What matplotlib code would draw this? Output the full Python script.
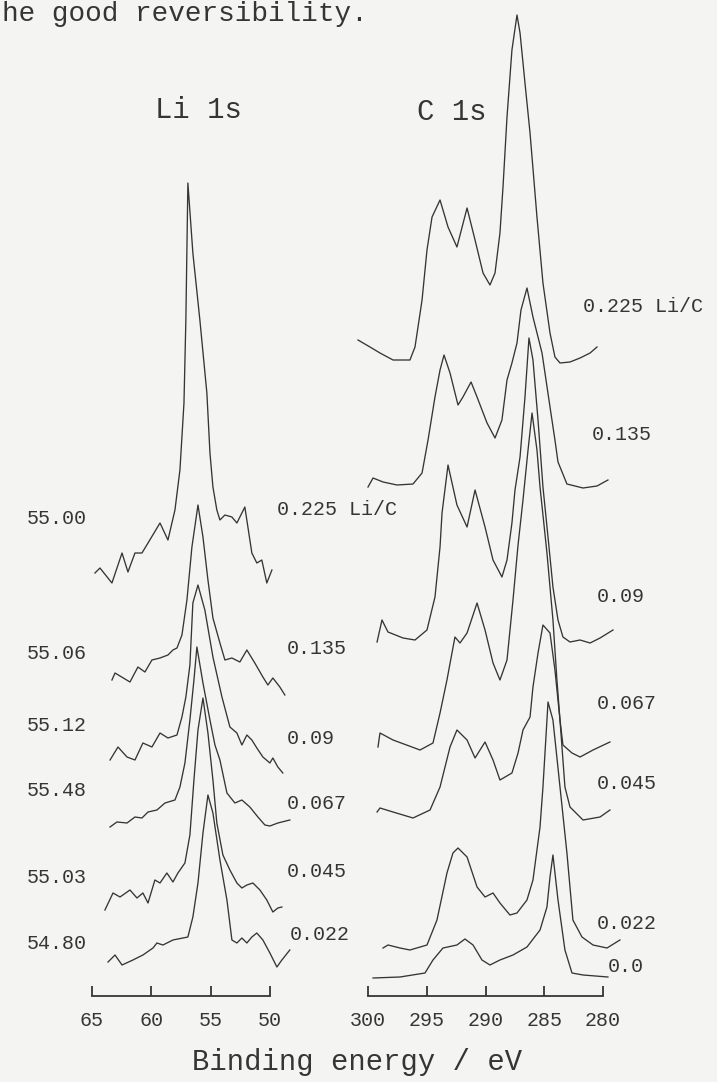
import matplotlib
matplotlib.use("Agg")
import matplotlib.pyplot as plt

# ---------------- data (binding energy in eV, intensity in arbitrary units) ----------------
li_ratios = ["0.225 Li/C", "0.135", "0.09", "0.067", "0.045", "0.022"]
li_peak_labels = ["55.00", "55.06", "55.12", "55.48", "55.03", "54.80"]
li_offsets = [421, 316, 236, 171, 91, 36]

li_E_0225 = [64.75, 64.33, 63.32, 62.47, 61.97, 61.38, 60.79, 60.28, 59.27, 58.60, 58.01, 57.59, 57.25, 57.09,
             56.92, 56.50, 55.91, 55.32, 55.06, 54.81, 54.48, 54.22, 53.80, 53.21, 52.79, 52.12, 51.53, 51.11,
             50.69, 50.27, 49.84]
li_I_0225 = [2, 7, -8, 22, 3, 22, 22, 32, 52, 35, 65, 105, 172, 255, 392, 322, 255, 182, 122, 88, 65, 55, 60, 58,
             52, 68, 22, 12, 15, -8, 5]

li_E_0135 = [63.32, 63.06, 61.80, 61.13, 60.54, 59.95, 59.27, 58.60, 58.18, 57.84, 57.42, 57.00, 56.58, 56.07,
             55.65, 55.23, 54.81, 54.22, 53.80, 53.21, 52.54, 51.95, 51.28, 50.60, 50.18, 49.76, 49.17, 48.75]
li_I_0135 = [0, 7, -2, 13, 8, 20, 22, 25, 30, 32, 45, 80, 133, 175, 143, 100, 62, 37, 20, 22, 18, 30, 17, 3, -5,
             2, -7, -15]

li_E_009 = [63.48, 62.81, 62.05, 61.38, 60.71, 59.95, 59.27, 58.60, 57.84, 57.42, 57.09, 56.75, 56.50, 56.07,
            55.49, 54.81, 54.05, 53.38, 52.79, 52.37, 51.95, 51.53, 51.11, 50.60, 50.01, 49.76, 49.34, 48.92]
li_I_009 = [0, 13, 3, 0, 17, 13, 27, 22, 25, 43, 63, 95, 157, 175, 150, 103, 63, 33, 27, 15, 25, 20, 12, 3, -3,
            2, -7, -13]

li_E_0067 = [63.48, 62.90, 62.05, 61.38, 60.79, 60.28, 59.53, 58.85, 58.01, 57.59, 57.17, 56.75, 56.41, 56.16,
             55.65, 55.06, 54.64, 54.22, 53.63, 52.96, 52.37, 51.70, 51.02, 50.43, 50.01, 49.34, 48.33]
li_I_0067 = [-2, 3, 2, 8, 7, 13, 15, 22, 25, 38, 62, 105, 145, 178, 142, 105, 80, 65, 32, 22, 25, 18, 8, 0, -1,
             2, 5]

li_E_0045 = [63.91, 63.23, 62.64, 61.80, 61.21, 60.71, 60.28, 59.70, 59.27, 58.69, 58.18, 57.76, 57.17, 56.75,
             56.41, 56.07, 55.65, 55.23, 54.81, 54.48, 53.97, 53.38, 52.79, 52.37, 51.95, 51.44, 50.85, 50.27,
             49.76, 49.34, 49.00]
li_I_0045 = [-5, 12, 8, 15, 7, 12, 2, 25, 22, 32, 23, 32, 42, 70, 125, 175, 207, 172, 125, 82, 50, 35, 22, 17,
             20, 22, 15, 5, -7, -3, -2]

li_E_0022 = [63.65, 63.06, 62.47, 61.55, 60.71, 59.86, 59.53, 59.02, 58.18, 56.92, 56.50, 56.07, 55.65, 55.23,
             54.81, 54.22, 53.63, 53.21, 52.79, 52.37, 51.95, 51.53, 51.11, 50.60, 50.01, 49.42, 49.00, 48.33]
li_I_0022 = [-2, 5, -5, 0, 5, 12, 17, 15, 20, 23, 43, 77, 127, 165, 147, 100, 60, 20, 17, 22, 17, 23, 27, 20, 7,
             -7, 0, 10]

c_ratios = ["0.225 Li/C", "0.135", "0.09", "0.067", "0.045", "0.022", "0.0"]
c_offsets = [641, 516, 356, 251, 184, 51, 18]

c_E_0225 = [300.85, 299.83, 298.98, 297.87, 296.43, 296.00, 295.40, 294.98, 294.55, 293.87, 293.19, 292.43,
            291.57, 290.89, 290.21, 289.62, 289.19, 288.77, 288.51, 288.17, 287.75, 287.32, 287.06, 286.64,
            286.21, 285.62, 285.11, 284.51, 284.09, 283.66, 282.81, 281.95, 281.10, 280.51]
c_I_0225 = [15, 8, 2, -5, -5, 8, 55, 105, 138, 155, 128, 108, 147, 115, 82, 70, 82, 122, 168, 238, 305, 340, 322,
            272, 222, 138, 72, 22, -2, -8, -7, -3, 2, 8]

c_E_0135 = [300.00, 299.57, 298.72, 297.53, 296.17, 295.40, 294.89, 294.30, 293.87, 293.53, 293.02, 292.34,
            291.92, 291.23, 290.72, 289.87, 289.19, 288.60, 288.17, 287.75, 287.32, 286.98, 286.47, 285.96,
            285.19, 284.51, 284.09, 283.83, 283.07, 281.70, 280.51, 279.58]
c_I_0135 = [-7, 2, -2, -5, -4, 7, 40, 83, 110, 125, 107, 75, 83, 98, 83, 57, 42, 60, 100, 117, 137, 170, 192, 163,
            127, 73, 40, 18, -4, -8, -6, 0]

c_E_009 = [299.23, 298.81, 298.30, 297.02, 296.00, 294.98, 294.30, 293.87, 293.70, 293.19, 292.43, 291.57,
           290.89, 290.04, 289.36, 288.60, 288.17, 287.75, 287.49, 287.06, 286.64, 286.30, 285.96, 285.53,
           285.11, 284.68, 284.26, 283.83, 283.41, 282.81, 281.95, 281.10, 280.25, 279.15]
c_I_009 = [-2, 20, 8, 2, 0, 10, 43, 93, 127, 175, 135, 113, 150, 113, 80, 63, 80, 117, 150, 183, 243, 302, 280,
           220, 153, 103, 53, 20, 3, -2, 0, -3, 2, 10]

c_E_0067 = [299.15, 298.98, 297.87, 295.57, 294.47, 293.87, 293.28, 292.60, 292.17, 291.57, 290.72, 290.04,
            289.36, 288.77, 288.17, 287.66, 287.23, 286.81, 286.38, 286.04, 285.62, 285.36, 284.77, 284.26,
            283.92, 283.66, 283.41, 282.64, 281.95, 280.85, 279.41]
c_I_0067 = [-2, 12, 5, -5, 2, 32, 65, 108, 102, 112, 142, 115, 82, 65, 85, 145, 200, 245, 295, 332, 295, 258, 192,
            125, 65, 25, 0, -8, -12, -5, 3]

c_E_0045 = [299.23, 298.98, 297.87, 296.17, 294.72, 293.87, 293.02, 292.43, 291.57, 290.89, 290.04, 289.36,
            288.77, 287.75, 287.23, 286.81, 286.21, 285.96, 285.53, 285.11, 284.51, 284.09, 283.66, 283.24,
            282.81, 281.70, 280.25, 279.41]
c_I_0045 = [0, 4, 0, -6, 2, 25, 65, 82, 72, 54, 70, 52, 32, 39, 59, 82, 95, 125, 159, 187, 179, 142, 92, 25, 5,
            -8, -5, 2]

c_E_0022 = [298.72, 298.30, 297.28, 296.43, 294.98, 294.13, 293.28, 292.77, 292.34, 291.57, 290.72, 290.04,
            289.36, 288.77, 287.92, 287.32, 286.47, 285.96, 285.36, 285.11, 284.77, 284.68, 284.26, 283.66,
            283.07, 282.56, 281.79, 280.85, 279.66, 278.56]
c_I_0022 = [-3, 0, -3, -5, 0, 25, 72, 92, 97, 88, 58, 48, 52, 42, 30, 32, 45, 65, 118, 158, 225, 243, 225, 158,
            92, 25, 8, 0, -3, 5]

c_E_000 = [299.57, 297.28, 295.15, 294.47, 293.62, 292.43, 291.75, 291.06, 290.30, 289.62, 288.77, 287.66,
           286.47, 285.36, 284.77, 284.51, 284.26, 283.83, 283.24, 282.64, 281.70, 279.58]
c_I_000 = [0, 1, 5, 18, 30, 33, 39, 33, 18, 13, 18, 23, 31, 48, 71, 101, 123, 78, 28, 5, 3, 1]

li_ticks = [65, 60, 55, 50]
c_ticks = [300, 295, 290, 285, 280]

li_series = [(li_E_0225, li_I_0225), (li_E_0135, li_I_0135), (li_E_009, li_I_009),
             (li_E_0067, li_I_0067), (li_E_0045, li_I_0045), (li_E_0022, li_I_0022)]
c_series = [(c_E_0225, c_I_0225), (c_E_0135, c_I_0135), (c_E_009, c_I_009), (c_E_0067, c_I_0067),
            (c_E_0045, c_I_0045), (c_E_0022, c_I_0022), (c_E_000, c_I_000)]

# ---------------- styling ----------------
W, H = 717, 1082
BG = "#f4f4f2"
INK = "#353535"
FONT = "Liberation Mono"
plt.rcParams["font.family"] = [FONT, "DejaVu Sans Mono"]

fig = plt.figure(figsize=(W / 100, H / 100), dpi=100)
fig.patch.set_facecolor(BG)

AX_Y = 996  # pixel row of the energy axes


def make_axes(x_left_px, x_right_px, xlim, ticks):
    ax = fig.add_axes([x_left_px / W, (H - AX_Y) / H, (x_right_px - x_left_px) / W, AX_Y / H])
    ax.set_xlim(*xlim)
    ax.set_ylim(0, AX_Y)
    ax.patch.set_alpha(0)
    for s in ("top", "left", "right"):
        ax.spines[s].set_visible(False)
    ax.spines["bottom"].set_bounds(min(ticks), max(ticks))
    ax.spines["bottom"].set_color(INK)
    ax.spines["bottom"].set_linewidth(1.3)
    ax.set_yticks([])
    ax.set_xticks(ticks)
    ax.set_xticklabels([str(t) for t in ticks])
    ax.tick_params(axis="x", direction="in", length=7.5, width=1.3, color=INK,
                   labelsize=14.4, labelcolor=INK, pad=11)
    return ax


# Li axes: 65 eV at px 92, 50 eV at px 270 -> 11.87 px/eV
ax_li = make_axes(92 - 1 * 11.87, 270 + 3 * 11.87, (66, 47), li_ticks)
# C axes: 300 eV at px 368, 280 eV at px 603 -> 11.75 px/eV
ax_c = make_axes(368 - 1.5 * 11.75, 603 + 2.5 * 11.75, (301.5, 277.5), c_ticks)

for (E, I), off in zip(li_series, li_offsets):
    ax_li.plot(E, [off + v for v in I], color=INK, lw=0.95, clip_on=False, solid_joinstyle="round")
for (E, I), off in zip(c_series, c_offsets):
    ax_c.plot(E, [off + v for v in I], color=INK, lw=0.95, clip_on=False, solid_joinstyle="round")


def ptext(x, y, s, size, ha="left"):
    # y is the visual centre of the glyphs in pixels; convert to baseline
    base = y + 0.33 * size * 100 / 72
    fig.text(x / W, 1 - base / H, s, fontsize=size, ha=ha, va="baseline", color=INK, family=FONT)


# running text of the page and panel titles
ptext(2, 12, "he good reversibility.", 20.0)
ptext(155, 108, "Li 1s", 20.8)
ptext(417, 110, "C 1s", 20.8)

# Li 1s peak positions (left) and Li/C ratios (right)
li_label_y = [517, 652, 724, 789, 876, 942]
for lab, y in zip(li_peak_labels, li_label_y):
    ptext(87, y, lab, 14.4, ha="right")
li_ratio_xy = [(277, 508), (287, 647), (287, 737), (287, 802), (287, 870), (290, 933)]
for lab, (x, y) in zip(li_ratios, li_ratio_xy):
    ptext(x, y, lab, 14.4)

c_ratio_xy = [(583, 305), (592, 433), (597, 595), (597, 702), (597, 782), (597, 922), (608, 965)]
for lab, (x, y) in zip(c_ratios, c_ratio_xy):
    ptext(x, y, lab, 14.4)

ptext(357, 1060, "Binding energy / eV", 20.8, ha="center")

fig.savefig("out.png", dpi=100, facecolor=BG)
